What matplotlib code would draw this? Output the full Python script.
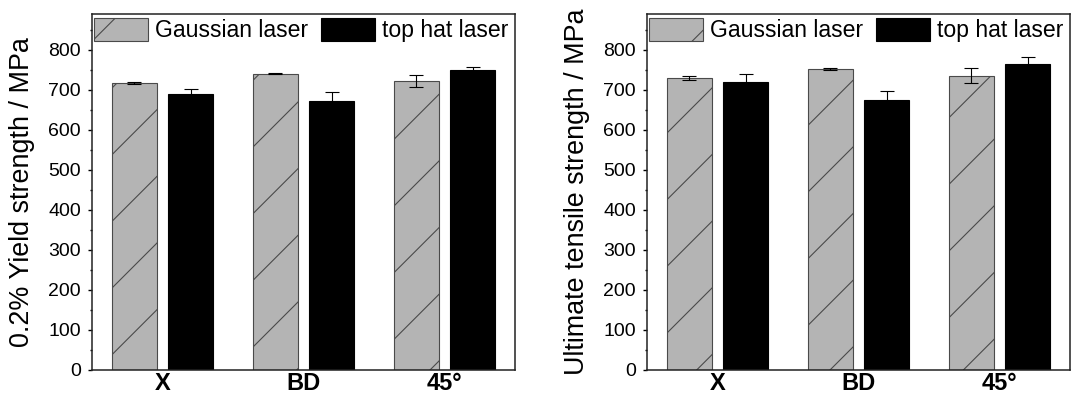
import matplotlib
matplotlib.use("Agg")
import matplotlib.pyplot as plt
import numpy as np
from matplotlib.ticker import MultipleLocator

plt.rcParams['font.family'] = ['Liberation Sans', 'DejaVu Sans']
plt.rcParams['hatch.linewidth'] = 0.4

categories = ["X", "BD", "45°"]
series_names = ["Gaussian laser", "top hat laser"]

yield_gauss = [717, 741, 723]
yield_gauss_err = [3, 2, 15]
yield_tophat = [691, 673, 749]
yield_tophat_err = [11, 22, 8]

uts_gauss = [731, 752, 736]
uts_gauss_err = [5, 2, 18]
uts_tophat = [719, 676, 765]
uts_tophat_err = [22, 21, 17]

ylabels = ["0.2% Yield strength / MPa", "Ultimate tensile strength / MPa"]

DPI = 200
fig = plt.figure(figsize=(1071 / DPI, 395 / DPI), dpi=DPI)

ax_w = 423 / 1071
ax_b = 1 - 370 / 395
ax_h = 356 / 395
lefts = [92 / 1071, 647 / 1071]

panels = [
    (yield_gauss, yield_gauss_err, yield_tophat, yield_tophat_err),
    (uts_gauss, uts_gauss_err, uts_tophat, uts_tophat_err),
]

x = np.arange(len(categories))
w = 0.32
off = 0.2
gray_fill = '#b4b4b4'
gray_edge = '#4a4a4a'

for i, (g, ge, t, te) in enumerate(panels):
    ax = fig.add_axes([lefts[i], ax_b, ax_w, ax_h])
    ax.bar(x - off, g, w, color=gray_fill, edgecolor=gray_edge, linewidth=0.4,
           hatch='/', label=series_names[0], zorder=2)
    ax.bar(x + off, t, w, color='black', edgecolor='black', linewidth=0.4,
           label=series_names[1], zorder=2)
    ax.errorbar(x - off, g, yerr=ge, fmt='none', ecolor='black', elinewidth=0.4,
                capsize=2.4, capthick=0.4, zorder=3)
    ax.errorbar(x + off, t, yerr=te, fmt='none', ecolor='black', elinewidth=0.4,
                capsize=2.4, capthick=0.4, zorder=3)
    ax.set_xlim(-0.5, 2.5)
    ax.set_ylim(0, 890)
    ax.yaxis.set_major_locator(MultipleLocator(100))
    ax.yaxis.set_minor_locator(MultipleLocator(50))
    ax.set_yticks([0, 100, 200, 300, 400, 500, 600, 700, 800])
    ax.tick_params(axis='y', which='major', direction='out', length=1.5, width=0.5,
                   labelsize=7, pad=2.5)
    ax.tick_params(axis='y', which='minor', direction='out', length=0.9, width=0.5)
    ax.set_xticks(x)
    ax.set_xticklabels(categories, fontweight='bold', fontsize=8.5)
    ax.tick_params(axis='x', length=0, pad=0.8)
    for s in ax.spines.values():
        s.set_linewidth(0.55)
        s.set_color('#222222')
    ax.set_ylabel(ylabels[i], fontsize=9.7)
    ax.yaxis.set_label_coords(-57 / 423, 0.5)
    ax.legend(loc='upper left', bbox_to_anchor=(0, 1 - 2 / 356), ncol=2, frameon=False,
              fontsize=8.3, handlelength=2.35, handleheight=1.13, handletextpad=0.3,
              columnspacing=0.55, borderaxespad=0.0, borderpad=0.09)

fig.savefig("out.png", dpi=DPI)
